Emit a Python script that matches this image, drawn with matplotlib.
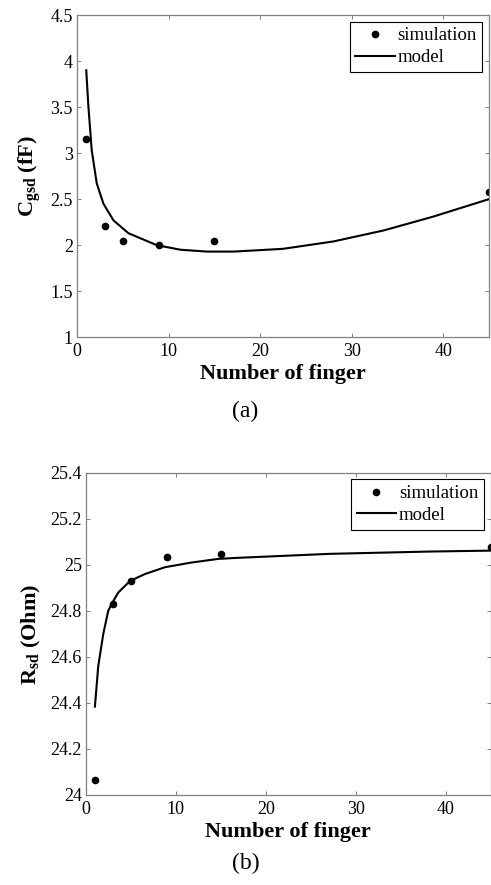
import matplotlib
matplotlib.use('Agg')
import matplotlib.pyplot as plt

plt.rcParams['font.family'] = 'Liberation Serif'
plt.rcParams['mathtext.fontset'] = 'custom'
plt.rcParams['mathtext.rm'] = 'Liberation Serif'
plt.rcParams['mathtext.bf'] = 'Liberation Serif:bold'

# (a) C_gsd vs number of fingers
sim_x = [1, 3, 5, 9, 15, 45]
cgsd_sim = [3.15, 2.21, 2.05, 2.0, 2.05, 2.58]
cgsd_model_x = [1, 1.24, 1.6, 2.15, 2.88, 3.97, 5.6, 8.7, 11.3, 14.2, 17.1, 22.5, 28, 33.5, 38.9, 45]
cgsd_model = [3.90, 3.50, 3.03, 2.67, 2.45, 2.27, 2.13, 2.00, 1.95, 1.93, 1.93, 1.96, 2.04, 2.16, 2.31, 2.50]

# (b) R_sd vs number of fingers
rsd_sim = [24.065, 24.83, 24.93, 25.033, 25.048, 25.078]
rsd_model_x = [1, 1.37, 1.93, 2.48, 2.85, 3.6, 4.9, 6.55, 8.8, 11.7, 14.7, 16.5, 27.1, 38.2, 45]
rsd_model = [24.384, 24.56, 24.70, 24.80, 24.83, 24.88, 24.93, 24.96, 24.99, 25.01, 25.026, 25.03, 25.048, 25.058, 25.062]

fig = plt.figure(figsize=(4.91, 8.85), dpi=100)
ax1 = fig.add_axes([0.157, 0.619, 0.839, 0.364])
ax2 = fig.add_axes([0.175, 0.1017, 0.824, 0.364])

def style(ax):
    for s in ax.spines.values():
        s.set_color('#808080')
        s.set_linewidth(0.9)
    ax.tick_params(direction='in', length=3, width=0.7, color='#808080',
                   labelsize=13, top=True, right=True)
    ax.tick_params(axis='y', pad=3)
    ax.tick_params(axis='x', pad=4)
    ax.set_xlim(0, 45)
    ax.set_xticks([0, 10, 20, 30, 40])
    ax.set_xlabel('Number of finger', fontsize=16, fontweight='bold', labelpad=3)

ax1.plot(sim_x, cgsd_sim, 'o', color='black', markersize=4.5, label='simulation')
ax1.plot(cgsd_model_x, cgsd_model, '-', color='black', lw=1.5, label='model')
ax1.set_ylim(1, 4.5)
ax1.set_yticks([1, 1.5, 2, 2.5, 3, 3.5, 4, 4.5])
ax1.set_yticklabels(['1', '1.5', '2', '2.5', '3', '3.5', '4', '4.5'])
style(ax1)
ax1.set_ylabel(r'$\mathbf{C_{gsd}}$ (fF)', fontsize=16, fontweight='bold', labelpad=5)

ax2.plot(sim_x, rsd_sim, 'o', color='black', markersize=4.5, label='simulation')
ax2.plot(rsd_model_x, rsd_model, '-', color='black', lw=1.5, label='model')
ax2.set_ylim(24, 25.4)
ax2.set_yticks([24, 24.2, 24.4, 24.6, 24.8, 25, 25.2, 25.4])
ax2.set_yticklabels(['24', '24.2', '24.4', '24.6', '24.8', '25', '25.2', '25.4'])
style(ax2)
ax2.set_ylabel(r'$\mathbf{R_{sd}}$ (Ohm)', fontsize=16, fontweight='bold', labelpad=5)

for ax in (ax1, ax2):
    leg = ax.legend(loc='upper right', fontsize=13.5, fancybox=False, framealpha=1,
                    edgecolor='black', handlelength=2.1, handletextpad=0.15,
                    borderpad=0.3, labelspacing=0.25, borderaxespad=0.35)
    leg.get_frame().set_linewidth(0.8)

fig.text(0.5, 1 - 411 / 885, '(a)', ha='center', va='center', fontsize=17)
fig.text(0.5, 1 - 863 / 885, '(b)', ha='center', va='center', fontsize=17)

fig.savefig('out.png', dpi=100)
